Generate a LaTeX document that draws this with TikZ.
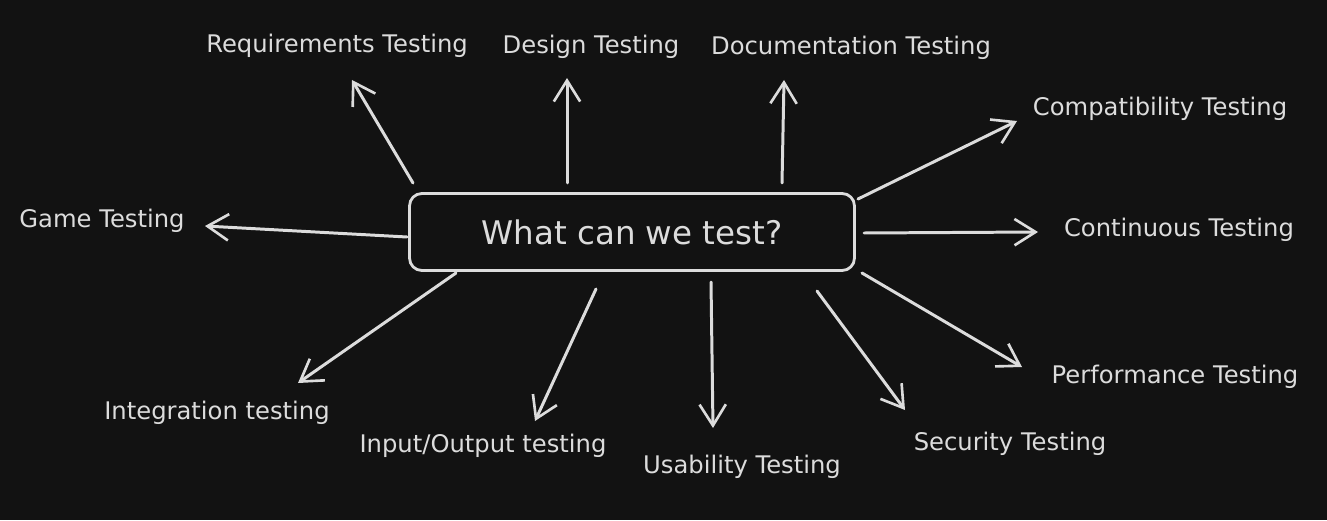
\documentclass[tikz,border=0pt]{standalone}
\usepackage{fontspec}
\setmainfont{DejaVu Sans}
\usetikzlibrary{arrows.meta}

\definecolor{bgdark}{HTML}{121212}
\definecolor{chalk}{HTML}{DCDCDC}

\tikzset{
  hub/.style={draw=chalk, line width=1.6pt, rounded corners=7pt, text=chalk,
    minimum width=8.9cm, minimum height=1.54cm, font=\fontsize{18.5}{20}\selectfont},
  topic/.style={text=chalk, inner sep=0pt, font=\fontsize{13.8}{16}\selectfont},
  spoke/.style={draw=chalk, line width=1.7pt, line cap=round,
    -{Straight Barb[length=12pt,width=15pt,line width=1.5pt]}}
}

\begin{document}
\begin{tikzpicture}[x=0.02cm, y=-0.02cm]

  % background, sized as the page
  \fill[bgdark] (0,0) rectangle (1327,520);
  \useasboundingbox (0,0) rectangle (1327,520);

  % the question in the middle
  \node[hub] (hub) at (632,232) {What can we test?};

  % the kinds of testing round it
  \node[topic] (req)    at (337,46)   {Requirements Testing};
  \node[topic] (design) at (591,47)   {Design Testing};
  \node[topic] (doc)    at (851,48)   {Documentation Testing};
  \node[topic] (compat) at (1160,109) {Compatibility Testing};
  \node[topic] (game)   at (102,221)  {Game Testing};
  \node[topic] (cont)   at (1179,230) {Continuous Testing};
  \node[topic] (perf)   at (1175,377) {Performance Testing};
  \node[topic] (integ)  at (217,413)  {Integration testing};
  \node[topic] (io)     at (483,446)  {Input/Output testing};
  \node[topic] (usab)   at (742,467)  {Usability Testing};
  \node[topic] (secur)  at (1010,444) {Security Testing};

  % where each arrow leaves the box and where its tip stops
  \coordinate (req-from)    at (413,183);  \coordinate (req-tip)    at (352,80);
  \coordinate (design-from) at (567,183);  \coordinate (design-tip) at (567,78);
  \coordinate (doc-from)    at (782,183);  \coordinate (doc-tip)    at (784,80);
  \coordinate (compat-from) at (858,199);  \coordinate (compat-tip) at (1017,121);
  \coordinate (game-from)   at (407,237);  \coordinate (game-tip)   at (205,226);
  \coordinate (cont-from)   at (864,233);  \coordinate (cont-tip)   at (1038,232);
  \coordinate (perf-from)   at (862,273);  \coordinate (perf-tip)   at (1022,367);
  \coordinate (integ-from)  at (456,273);  \coordinate (integ-tip)  at (298,383);
  \coordinate (io-from)     at (596,289);  \coordinate (io-tip)     at (535,421);
  \coordinate (usab-from)   at (711,282);  \coordinate (usab-tip)   at (713,428);
  \coordinate (secur-from)  at (817,291);  \coordinate (secur-tip)  at (905,410);

  \foreach \t in {req,design,doc,compat,game,cont,perf,integ,io,usab,secur} {
    \draw[spoke] (\t-from) -- (\t-tip);
  }

\end{tikzpicture}
\end{document}
